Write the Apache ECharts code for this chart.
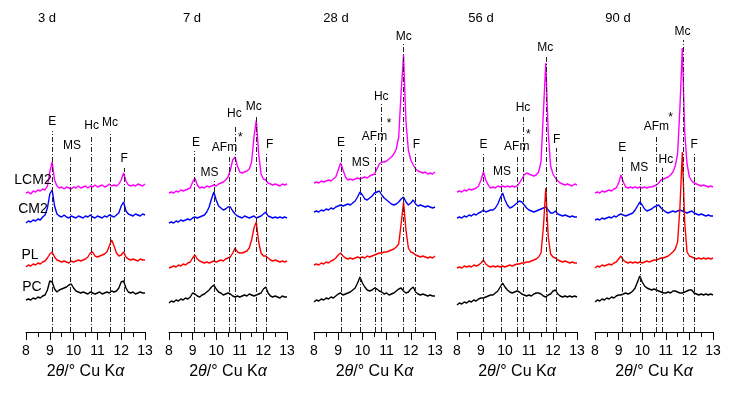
<!DOCTYPE html>
<html><head><meta charset="utf-8">
<script src="https://cdn.jsdelivr.net/npm/echarts@6/dist/echarts.min.js"></script>
<style>html,body{margin:0;padding:0;background:#fff}#c{width:738px;height:393px}</style>
</head><body><div id="c"></div>
<script>
// 2theta grid (degrees)
const twoTheta = [8.0,8.1,8.2,8.3,8.4,8.5,8.6,8.7,8.8,8.9,9.0,9.1,9.2,9.3,9.4,9.5,9.6,9.7,9.8,9.9,10.0,10.1,10.2,10.3,10.4,10.5,10.6,10.7,10.8,10.9,11.0,11.1,11.2,11.3,11.4,11.5,11.6,11.7,11.8,11.9,12.0,12.1,12.2,12.3,12.4,12.5,12.6,12.7,12.8,12.9,13.0];
const ages = ['3 d','7 d','28 d','56 d','90 d'];
const samples = ['LCM2','CM2','PL','PC'];
const xTicks = [8,9,10,11,12,13];

// Offset intensity traces (arbitrary units), per age
const d3_LCM2 = [139,140,138,141,140,142,141,143,142,146,160,170,152,146,144,145,143,145,144,143,145,144,146,144,145,146,144,146,145,147,145,146,147,145,146,148,146,147,146,148,152,159,151,147,146,147,146,148,147,146,148];
const d3_CM2  = [109,111,110,112,111,113,112,115,117,124,138,142,126,118,116,115,117,115,114,116,115,114,116,115,114,116,115,117,115,114,116,115,114,116,115,117,116,115,117,119,126,130,121,118,117,116,118,117,116,118,117];
const d3_PL   = [65,67,66,68,67,69,68,70,71,74,78,80,75,72,71,70,71,70,69,71,70,71,72,71,72,73,75,79,80,76,75,76,77,78,80,86,92,86,79,76,77,80,75,73,72,73,72,71,73,72,72];
const d3_PC   = [32,33,32,34,33,35,34,36,37,42,51,50,43,40,42,43,44,45,47,48,44,41,40,39,40,39,38,40,39,38,39,40,38,39,40,39,41,40,41,44,50,51,44,40,39,40,38,39,40,39,39];

const d7_LCM2 = [139,140,139,141,140,142,141,142,143,144,150,154,147,144,145,144,146,145,146,147,146,148,149,150,152,155,162,172,175,166,160,159,160,161,163,170,195,212,178,158,153,152,149,148,147,148,147,146,148,147,148];
const d7_CM2  = [109,110,109,111,110,112,111,112,113,112,114,115,114,115,116,117,120,125,133,140,132,126,124,122,123,125,125,121,118,116,115,114,116,115,114,115,116,114,115,116,118,120,116,115,114,115,114,115,114,115,114];
const d7_PL   = [64,65,66,65,67,66,68,67,69,70,74,77,73,71,70,69,70,69,70,71,70,71,72,71,73,74,75,79,84,80,79,79,80,81,84,92,104,110,90,79,76,76,74,72,71,72,71,70,71,70,71];
const d7_PC   = [29,31,30,32,31,33,32,34,33,35,39,38,36,35,37,38,40,42,45,47,43,40,39,37,38,39,38,36,35,36,35,36,37,36,38,37,36,37,38,39,43,45,39,36,35,36,35,34,36,35,35];

const d28_LCM2 = [149,150,149,151,150,151,152,151,153,155,162,169,162,155,152,153,152,153,154,153,154,155,154,156,157,158,163,168,170,170,171,173,175,178,183,195,240,277,210,182,172,167,163,161,160,159,160,158,159,158,160];
const d28_CM2  = [120,121,120,122,121,123,122,124,123,125,126,127,126,127,128,127,129,131,135,140,137,133,132,134,136,139,140,141,137,134,132,130,128,127,128,130,133,135,130,127,129,132,128,126,127,126,125,126,125,124,125];
const d28_PL   = [67,68,67,69,68,70,69,71,72,74,77,79,76,74,73,74,73,74,75,74,75,74,76,75,76,77,78,79,79,80,80,81,82,83,85,88,108,130,102,84,80,79,77,76,75,76,75,74,75,74,76];
const d28_PC   = [30,32,31,33,32,34,33,35,34,36,38,39,37,38,39,40,42,44,49,55,49,45,42,41,42,44,43,41,40,38,39,37,38,39,41,43,44,41,39,40,43,45,40,38,37,38,37,36,37,36,36];

const d56_LCM2 = [140,141,140,142,141,143,142,143,144,146,152,160,152,147,144,145,144,146,145,146,145,146,145,146,145,146,149,153,157,159,158,157,156,157,160,170,220,269,200,166,158,154,151,149,148,147,148,147,146,148,147];
const d56_CM2  = [114,115,114,116,115,117,116,118,117,119,120,122,120,121,122,122,124,128,134,139,132,127,124,125,127,129,131,130,127,124,122,121,120,121,122,123,124,125,122,119,119,121,118,117,116,117,116,115,116,115,115];
const d56_PL   = [64,65,64,66,65,66,65,67,66,67,69,72,68,66,65,66,65,66,65,66,65,66,67,66,67,68,68,69,69,70,70,71,72,73,75,79,105,144,96,78,75,74,72,71,70,71,70,69,70,69,69];
const d56_PC   = [27,29,28,30,29,31,30,32,31,33,34,34,35,36,37,37,39,41,45,49,45,42,40,39,40,41,40,38,37,36,37,36,38,39,39,38,36,35,37,38,41,42,38,36,35,36,35,36,35,36,35];

const d90_LCM2 = [139,140,139,141,140,141,142,141,143,144,149,157,150,145,144,145,144,145,144,145,144,145,144,145,145,146,147,149,152,153,154,155,157,160,166,178,225,284,200,168,155,151,149,148,147,146,147,146,145,146,145];
const d90_CM2  = [112,113,112,114,113,114,115,114,116,115,117,118,117,116,117,118,119,122,126,130,127,123,121,122,123,125,126,127,124,122,120,119,120,121,120,121,122,121,120,119,120,121,119,118,117,118,117,116,117,116,116];
const d90_PL   = [64,66,65,67,66,67,68,67,69,70,73,76,72,70,69,70,69,70,69,70,69,70,71,70,71,72,72,73,74,74,75,76,78,80,83,90,125,180,110,80,76,75,74,73,74,73,74,73,74,73,74];
const d90_PC   = [30,32,31,33,32,34,33,35,34,36,37,37,38,39,38,39,41,44,50,56,50,46,44,43,42,43,42,41,40,39,39,40,39,41,41,40,39,39,40,41,42,42,39,38,37,38,37,38,37,38,37];

// Reference peak positions (2theta), line tops and labels, per age
const peakNames3 = ['E','MS','Hc','Mc','F'];
const peakPos3   = [9.1,9.85,10.75,11.55,12.12];
const peakTop3   = [201,177,197,200,164];
const labelX3    = [9.1,9.93,10.76,11.53,12.12];
const labelY3    = [210,186,206,209,173];

const peakNames7 = ['E','MS','AFm','Hc','Mc','F','*'];
const peakPos7   = [9.06,9.91,10.55,10.8,11.71,12.14,null];
const peakTop7   = [181,151,176,207,217,179,null];
const labelX7    = [9.14,9.72,10.35,10.77,11.59,12.27,11.02];
const labelY7    = [189,159,184,218,225,187,194];

const peakNames28 = ['E','MS','AFm','Hc','Mc','F','*'];
const peakPos28   = [9.14,9.9,10.52,10.77,11.69,12.17,null];
const peakTop28   = [182,162,188,228,288,180,null];
const labelX28    = [9.12,9.93,10.5,10.78,11.71,12.23,11.1];
const labelY28    = [189,169,195,235,295,187,208];

const peakNames56 = ['E','MS','AFm','Hc','Mc','F','*'];
const peakPos56   = [9.1,9.86,10.51,10.76,11.71,12.15,null];
const peakTop56   = [179,152,177,216,276,184,null];
const labelX56    = [9.1,9.87,10.49,10.75,11.68,12.15,10.97];
const labelY56    = [187,160,185,224,284,192,197];

const peakNames90 = ['E','MS','AFm','Hc','Mc','F','*'];
const peakPos90   = [9.16,9.91,10.58,10.83,11.72,12.21,null];
const peakTop90   = [176,156,197,164,292,179,null];
const labelX90    = [9.15,9.87,10.6,11.0,11.71,12.2,11.2];
const labelY90    = [184,164,205,172,300,187,214];

const traces = [
  [d3_LCM2,d3_CM2,d3_PL,d3_PC],
  [d7_LCM2,d7_CM2,d7_PL,d7_PC],
  [d28_LCM2,d28_CM2,d28_PL,d28_PC],
  [d56_LCM2,d56_CM2,d56_PL,d56_PC],
  [d90_LCM2,d90_CM2,d90_PL,d90_PC]
];
const refs = [
  [peakNames3,peakPos3,peakTop3,labelX3,labelY3],
  [peakNames7,peakPos7,peakTop7,labelX7,labelY7],
  [peakNames28,peakPos28,peakTop28,labelX28,labelY28],
  [peakNames56,peakPos56,peakTop56,labelX56,labelY56],
  [peakNames90,peakPos90,peakTop90,labelX90,labelY90]
];

// layout
const FONT = '"Liberation Sans", Arial, Helvetica, sans-serif';
const colors = ['#ff00ff','#0000ff','#ff0000','#000000'];
const panelLeft = [26,169,314,457,595];
const panelWidth = [119,118,121,120,118];
const titleX = [47,192,336,481,618];
const rowLabelPos = [[33,180],[33,209],[30,255],[32,287]];

const grid = [], xAxis = [], yAxis = [], series = [], graphic = [];
for (let p = 0; p < 5; p++) {
  grid.push({left: panelLeft[p], width: panelWidth[p], top: 20, height: 312});
  xAxis.push({
    type:'value', gridIndex:p, min:8, max:13, interval:1,
    axisLine:{show:true, onZero:false, lineStyle:{color:'#000', width:1}},
    axisTick:{show:true, inside:false, length:8, lineStyle:{color:'#000', width:1}},
    minorTick:{show:true, splitNumber:2, length:5, lineStyle:{color:'#000', width:1}},
    splitLine:{show:false}, minorSplitLine:{show:false},
    axisLabel:{color:'#000', fontSize:14, fontFamily:FONT, margin:12,
      customValues: xTicks},
    name:'{n|2}{i|θ}{n|/° Cu K}{i|α}', nameLocation:'middle', nameGap:32,
    nameTextStyle:{rich:{
      n:{fontSize:16, fontFamily:FONT, color:'#000'},
      i:{fontSize:16, fontFamily:FONT, fontStyle:'italic', color:'#000'}}}
  });
  yAxis.push({type:'value', gridIndex:p, min:0, max:312, show:false});
  for (let s = 0; s < 4; s++) {
    series.push({
      type:'line', xAxisIndex:p, yAxisIndex:p, name: ages[p]+' '+samples[s],
      data: twoTheta.map((x,i)=>[x, traces[p][s][i]]),
      showSymbol:false, symbol:'none', silent:true, animation:false,
      lineStyle:{color:colors[s], width:1.4}, z:2
    });
  }
  const [names,pos,tops,lx,ly] = refs[p];
  const mlData = [], mpData = [];
  names.forEach((n,k)=>{
    if (pos[k] !== null) mlData.push([{coord:[pos[k],0]},{coord:[pos[k],tops[k]]}]);
    mpData.push({name:n, coord:[lx[k], ly[k]]});
  });
  series.push({
    type:'line', xAxisIndex:p, yAxisIndex:p, data:[], silent:true, animation:false, z:5,
    markLine:{symbol:['none','none'], silent:true, animation:false,
      label:{show:false},
      lineStyle:{color:'#222', width:1, type:[5,2,1,2]},
      data: mlData},
    markPoint:{symbol:'circle', symbolSize:0, silent:true, animation:false,
      label:{show:true, position:'inside', formatter:'{b}', color:'#000', fontSize:12, fontFamily:FONT},
      data: mpData}
  });
  graphic.push({type:'text', x:titleX[p], y:18,
    style:{text:ages[p], fill:'#000', font:'13px '+FONT, align:'center', verticalAlign:'middle'}});
}
samples.forEach((s,i)=>{
  graphic.push({type:'text', x:rowLabelPos[i][0], y:rowLabelPos[i][1], z:10,
    style:{text:s, fill:'#000', font:'14px '+FONT, align:'center', verticalAlign:'middle'}});
});

const chart = echarts.init(document.getElementById('c'), null, {renderer:'canvas'});
chart.setOption({animation:false, backgroundColor:'#fff', grid, xAxis, yAxis, series, graphic});
</script></body></html>
